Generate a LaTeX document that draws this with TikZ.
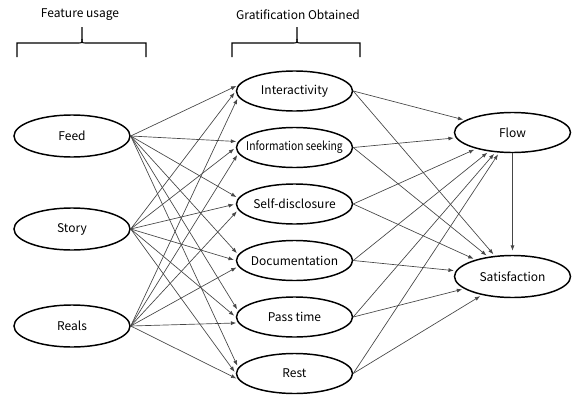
\documentclass[tikz,border=0pt]{standalone}
\usepackage{fontspec}
\usepackage{graphicx}
\setmainfont{Noto Sans CJK KR}
\usetikzlibrary{shapes.geometric,arrows.meta}

\tikzset{
  ellnode/.style={draw, ellipse, line width=1.1pt, minimum width=87pt, minimum height=30pt,
    inner xsep=-15pt, inner ysep=0pt, font=\fontsize{9}{11}\selectfont},
  headnode/.style={inner sep=0.75pt, font=\fontsize{9}{11}\selectfont},
  pathline/.style={color={rgb, 255:red, 70; green, 70; blue, 70}, line width=0.5pt,
    -{Latex[length=4pt,width=3pt]}, shorten >=1.5pt},
  bracket/.style={line width=0.8pt}
}

\begin{document}
\begin{tikzpicture}[x=0.75pt,y=0.75pt,yscale=-1,xscale=1]
\path (0,0) rectangle (575,396); %diagram size

% Text Node
\draw (80,15) node [headnode] (fu) {Feature usage};
% Text Node
\draw (298,15) node [headnode] (go) {Gratification Obtained};

%Shape: Brace
\draw [bracket] (17,57) -- (17,43) -- (78,43) .. controls (82,43) .. (82,39) -- (82,27) ;
\draw [bracket] (146,57) -- (146,43) -- (86,43) .. controls (82,43) .. (82,39) ;
%Shape: Brace
\draw [bracket] (232,57) -- (232,43) -- (293,43) .. controls (297,43) .. (297,39) -- (297,27) ;
\draw [bracket] (360,57) -- (360,43) -- (301,43) .. controls (297,43) .. (297,39) ;

%Shape: Ellipse
\draw (72,136) node [ellnode, minimum height=31.5pt] (feed) {Feed};
\draw (72,229) node [ellnode, minimum height=31.5pt] (story) {Story};
\draw (72,326) node [ellnode, minimum height=31.5pt] (reals) {Reals};

%Shape: Ellipse
\draw (294.5,91) node [ellnode] (inter) {Interactivity};
\draw (294.5,147.5) node [ellnode] (info) {\scalebox{0.86}[1]{Information seeking}};
\draw (294.5,204) node [ellnode] (self) {Self-disclosure};
\draw (294.5,260.5) node [ellnode] (docu) {Documentation};
\draw (294.5,317) node [ellnode] (pass) {Pass time};
\draw (294.5,373.5) node [ellnode] (rest) {Rest};

%Shape: Ellipse
\draw (512.5,132.5) node [ellnode] (flow) {Flow};
\draw (512.5,276.5) node [ellnode, minimum height=31.5pt] (sat) {Satisfaction};

%Straight Lines: feature usage -> gratification
\draw [pathline] (feed.east) -- (inter.174) ;
\draw [pathline] (feed.east) -- (info.174) ;
\draw [pathline] (feed.east) -- (self.174) ;
\draw [pathline] (feed.east) -- (docu.174) ;
\draw [pathline] (feed.east) -- (pass.174) ;
\draw [pathline] (feed.east) -- (rest.174) ;
\draw [pathline] (story.east) -- (inter.180) ;
\draw [pathline] (story.east) -- (info.180) ;
\draw [pathline] (story.east) -- (self.180) ;
\draw [pathline] (story.east) -- (docu.180) ;
\draw [pathline] (story.east) -- (pass.180) ;
\draw [pathline] (story.east) -- (rest.180) ;
\draw [pathline] (reals.east) -- (inter.186) ;
\draw [pathline] (reals.east) -- (info.186) ;
\draw [pathline] (reals.east) -- (self.186) ;
\draw [pathline] (reals.east) -- (docu.186) ;
\draw [pathline] (reals.east) -- (pass.186) ;
\draw [pathline] (reals.east) -- (rest.186) ;

%Straight Lines: gratification -> flow, satisfaction
\draw [pathline] (inter.east) -- (flow) ;
\draw [pathline] (info.east) -- (flow) ;
\draw [pathline] (self.east) -- (flow) ;
\draw [pathline] (docu.east) -- (flow) ;
\draw [pathline] (pass.east) -- (flow) ;
\draw [pathline] (rest.east) -- (flow) ;
\draw [pathline] (inter.east) -- (sat) ;
\draw [pathline] (info.east) -- (sat) ;
\draw [pathline] (self.east) -- (sat) ;
\draw [pathline] (docu.east) -- (sat) ;
\draw [pathline] (pass.east) -- (sat) ;
\draw [pathline] (rest.east) -- (sat) ;

%Straight Lines: flow -> satisfaction
\draw [pathline, shorten >=3pt] (flow) -- (sat) ;

\end{tikzpicture}
\end{document}
